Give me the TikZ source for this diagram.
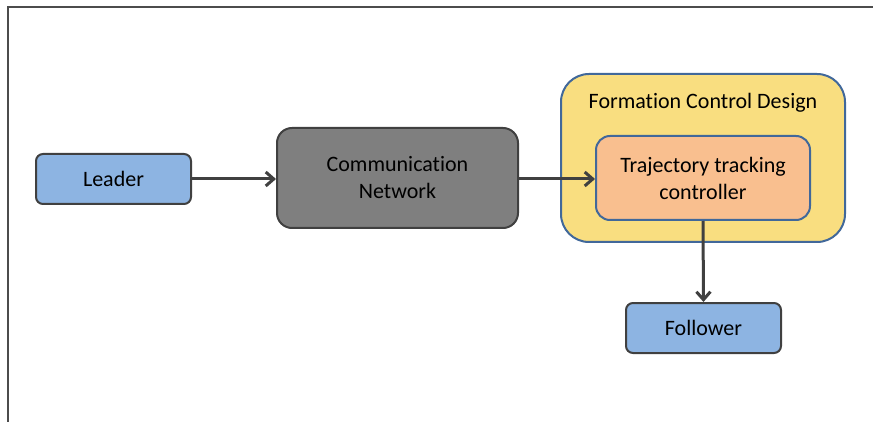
\documentclass[tikz,border=0pt]{standalone}
\usepackage{fontspec}
\setmainfont{Carlito}[Ligatures=NoCommon]
\usetikzlibrary{arrows.meta}
\definecolor{edgegray}{HTML}{404040}
\definecolor{bluefill}{HTML}{8DB4E2}
\definecolor{grayfill}{HTML}{7F7F7F}
\definecolor{yellowfill}{HTML}{F9DE80}
\definecolor{peachfill}{HTML}{F9BF8F}
\definecolor{blueedge}{HTML}{41689A}
\tikzset{
  txt/.style={font=\fontsize{22}{27}\selectfont},
  box/.style={draw=edgegray, line width=2pt, rounded corners=7pt, inner sep=0pt, align=center, txt},
  conn/.style={draw=edgegray, line width=3pt, -{Straight Barb[length=8pt,width=14pt,line width=3pt]}},
}
\begin{document}
\begin{tikzpicture}[x=1pt,y=-1pt]
\useasboundingbox (0,0) rectangle (873,422);
\draw[line width=1.2pt, draw=black!70] (8,422) -- (8,7) -- (873,7);
\node[box, fill=bluefill, minimum width=155pt, minimum height=50pt] (leader) at (113.5,179) {Leader};
\node[box, fill=grayfill, minimum width=241pt, minimum height=100pt, rounded corners=15pt] (comm) at (397.5,178) {\raisebox{-2pt}{Communication}\\\raisebox{-2pt}{Network}};
\node[box, draw=blueedge, fill=yellowfill, minimum width=284pt, minimum height=168pt, rounded corners=28pt] (form) at (703,158) {};
\node[txt] (formlabel) at (703,102.5) {Formation Control Design};
\node[box, draw=blueedge, fill=peachfill, minimum width=214pt, minimum height=84pt, rounded corners=14pt] (traj) at (703,178) {\raisebox{-2pt}{Trajectory tracking}\\\raisebox{-2pt}{controller}};
\node[box, fill=bluefill, minimum width=155pt, minimum height=50pt] (foll) at (703.5,328) {Follower};
\draw[conn] (leader.east) -- (comm.west |- leader.east);
\draw[conn] (comm.east |- leader.east) -- (traj.west |- leader.east);
\draw[conn] (traj.south) -- (foll.north);
\end{tikzpicture}
\end{document}
